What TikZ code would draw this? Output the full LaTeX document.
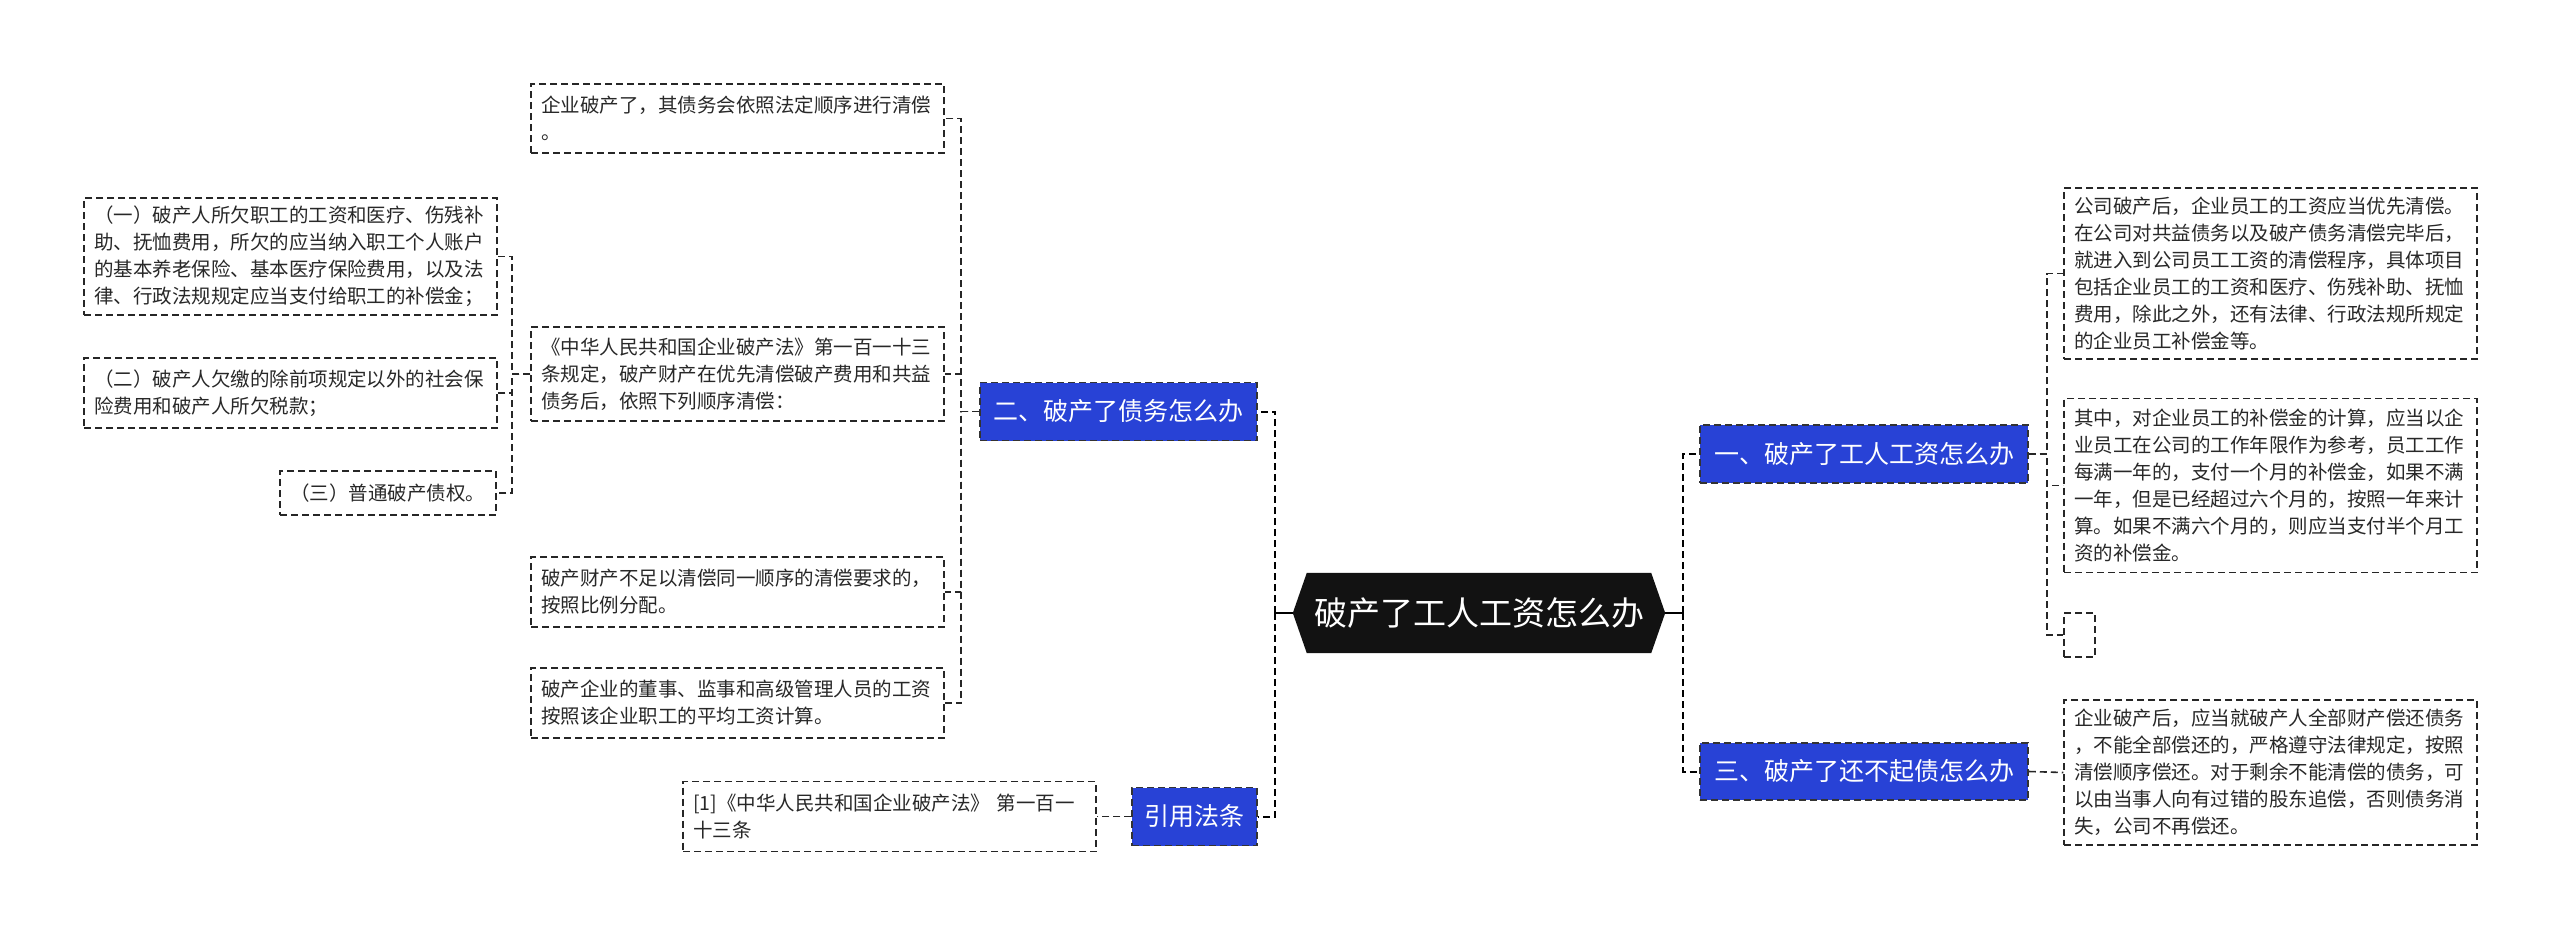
\documentclass[tikz,border=0pt]{standalone}
\usepackage{fontspec}
\newfontfamily\cjk{Noto Sans CJK SC}
\usetikzlibrary{backgrounds}
\definecolor{bluefill}{RGB}{40,66,214}
\definecolor{txtc}{RGB}{40,40,40}
\tikzset{
  dsh/.style={dash pattern=on 7pt off 4pt},
  txtbox/.style={draw=black!85, dsh, line width=1.5pt, fill=white,
    font=\cjk\fontsize{19.5}{27}\selectfont, text=txtc, align=left,
    inner xsep=10pt, inner ysep=0pt, text width=393pt, minimum width=413pt},
  bluebox/.style={fill=bluefill, draw=black!80, dsh, line width=1.5pt,
    font=\cjk\fontsize{25}{30}\selectfont, text=white, inner sep=0pt},
  conn/.style={draw=black, line width=2pt, dsh},
  subconn/.style={draw=black!85, line width=1.6pt, dsh},
  solidc/.style={draw=black, line width=2pt},
}
\begin{document}
\begin{tikzpicture}[x=1pt,y=-1pt]
\useasboundingbox (0,0) rectangle (2560,935);

% central node
\node[font=\cjk\fontsize{33}{36}\selectfont, text=white, minimum width=372pt,
  minimum height=80pt, inner sep=0pt] (c) at (1479,613) {破产了工人工资怎么办};
\begin{scope}[on background layer]
\fill[white] (0,0) rectangle (2560,935);
\fill[black!93] (c.west) -- ([xshift=14pt]c.north west) -- ([xshift=-14pt]c.north east)
  -- (c.east) -- ([xshift=-14pt]c.south east) -- ([xshift=14pt]c.south west) -- cycle;
\end{scope}

% branch nodes
\node[bluebox, minimum width=328pt, minimum height=58pt] (b1) at (1864,454) {一、破产了工人工资怎么办};
\node[bluebox, minimum width=328pt, minimum height=57pt] (b3) at (1864,771.5) {三、破产了还不起债怎么办};
\node[bluebox, minimum width=277pt, minimum height=58pt] (b2) at (1118.5,411.5) {二、破产了债务怎么办};
\node[bluebox, minimum width=125pt, minimum height=58pt] (bc) at (1194.5,816.5) {引用法条};

% left text nodes
\node[txtbox, minimum height=69pt] (L1) at (737.5,118.5) {企业破产了，其债务会依照法定顺序进行清偿\\。};
\node[txtbox, minimum height=94pt] (L2) at (737.5,374) {《中华人民共和国企业破产法》第一百一十三\\条规定，破产财产在优先清偿破产费用和共益\\债务后，依照下列顺序清偿：};
\node[txtbox, minimum height=70pt] (L3) at (737.5,592) {破产财产不足以清偿同一顺序的清偿要求的，\\按照比例分配。};
\node[txtbox, minimum height=70pt] (L4) at (737.5,703) {破产企业的董事、监事和高级管理人员的工资\\按照该企业职工的平均工资计算。};

\node[txtbox, minimum height=117pt] (S1) at (290.5,256.5) {（一）破产人所欠职工的工资和医疗、伤残补\\助、抚恤费用，所欠的应当纳入职工个人账户\\的基本养老保险、基本医疗保险费用，以及法\\律、行政法规规定应当支付给职工的补偿金；};
\node[txtbox, minimum height=70pt] (S2) at (290.5,393) {（二）破产人欠缴的除前项规定以外的社会保\\险费用和破产人所欠税款；};
\node[txtbox, text width=196pt, minimum width=216pt, minimum height=44pt] (S3) at (388,493) {（三）普通破产债权。};

\node[txtbox, minimum height=70pt] (ct) at (889.5,816.5) {[1]《中华人民共和国企业破产法》 第一百一\\十三条};

% right text nodes
\node[txtbox, minimum height=171pt] (R1) at (2270.5,273.5) {公司破产后，企业员工的工资应当优先清偿。\\在公司对共益债务以及破产债务清偿完毕后，\\就进入到公司员工工资的清偿程序，具体项目\\包括企业员工的工资和医疗、伤残补助、抚恤\\费用，除此之外，还有法律、行政法规所规定\\的企业员工补偿金等。};
\node[txtbox, minimum height=174pt] (R2) at (2270.5,485.5) {其中，对企业员工的补偿金的计算，应当以企\\业员工在公司的工作年限作为参考，员工工作\\每满一年的，支付一个月的补偿金，如果不满\\一年，但是已经超过六个月的，按照一年来计\\算。如果不满六个月的，则应当支付半个月工\\资的补偿金。};
\node[txtbox, text width=11pt, minimum width=31pt, minimum height=44pt] (R3) at (2079.5,635) {};
\node[txtbox, minimum height=145pt] (R4) at (2270.5,772.5) {企业破产后，应当就破产人全部财产偿还债务\\，不能全部偿还的，严格遵守法律规定，按照\\清偿顺序偿还。对于剩余不能清偿的债务，可\\以由当事人向有过错的股东追偿，否则债务消\\失，公司不再偿还。};

% connectors level 1
\coordinate (jL) at (1275,613);
\coordinate (jR) at (1683,613);
\draw[solidc] (c.west) -- (jL);
\draw[solidc] (c.east) -- (jR);
\draw[conn] (jL) |- (b2.east);
\draw[conn] (jL) |- (bc.east);
\draw[conn] (jR) |- (b1.west);
\draw[conn] (jR) |- (b3.west);

% connectors level 2
\foreach \t in {L1,L2,L3,L4} {
  \draw[subconn] (b2.west) -- ++(-18,0) |- (\t.east);
}
\draw[subconn] (bc.west) -- (ct.east);
\foreach \t in {S1,S2,S3} {
  \draw[subconn] (L2.west) -- ++(-18,0) |- (\t.east);
}
\foreach \t in {R1,R2,R3} {
  \draw[subconn] (b1.east) -- ++(18,0) |- (\t.west);
}
\draw[subconn] (b3.east) -- (R4.west);
\end{tikzpicture}
\end{document}
